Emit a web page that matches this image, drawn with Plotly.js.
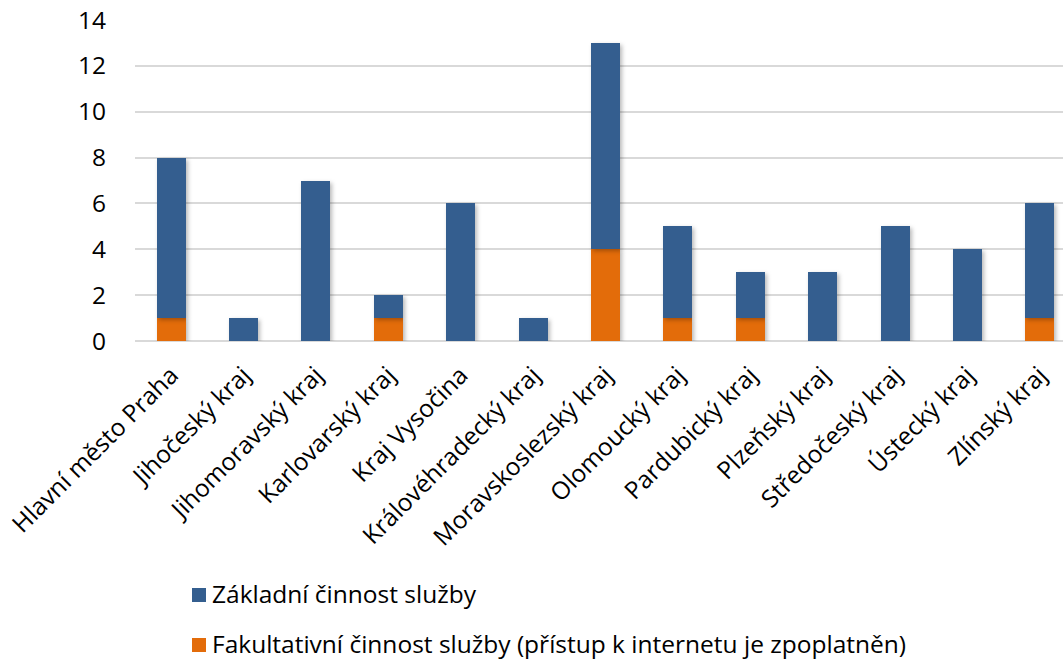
<!DOCTYPE html>
<html>
<head>
<meta charset="utf-8">
<script src="https://cdn.plot.ly/plotly-3.0.1.min.js"></script>
<style>
  html, body { margin: 0; padding: 0; background: #fff; }
  #chart { width: 1063px; height: 659px; }
  #chart .bars path { filter: drop-shadow(2px 2px 2px rgba(0,0,0,0.28)); }
</style>
</head>
<body>
<div id="chart"></div>
<script>
// Kraje
const regions = [
  'Hlavní město Praha', 'Jihočeský kraj', 'Jihomoravský kraj', 'Karlovarský kraj',
  'Kraj Vysočina', 'Královéhradecký kraj', 'Moravskoslezský kraj', 'Olomoucký kraj',
  'Pardubický kraj', 'Plzeňský kraj', 'Středočeský kraj', 'Ústecký kraj', 'Zlínský kraj'
];
// Fakultativní činnost služby (přístup k internetu je zpoplatněn)
const optionalService = [1, 0, 0, 1, 0, 0, 4, 1, 1, 0, 0, 0, 1];
// Základní činnost služby
const basicService = [7, 1, 7, 1, 6, 1, 9, 4, 2, 3, 5, 4, 5];
const yTicks = [0, 2, 4, 6, 8, 10, 12, 14];

const FONT = '"Open Sans", "Noto Sans", sans-serif';
const FS = 24.5;
const W = 1063, H = 659;
const M = { l: 135, r: 0, t: 20, b: 318 };

const traces = [
  {
    type: 'bar', x: regions, y: optionalService,
    name: 'Fakultativní činnost služby (přístup k internetu je zpoplatněn)',
    marker: { color: '#e36c0a' }, width: 0.4, hoverinfo: 'x+y'
  },
  {
    type: 'bar', x: regions, y: basicService,
    name: 'Základní činnost služby',
    marker: { color: '#345e8f' }, width: 0.4, hoverinfo: 'x+y'
  }
];

// Legend below the chart: a colour square and the series name per row,
// placed in page pixels and converted to paper coordinates.
const plotW = W - M.l - M.r, plotH = H - M.t - M.b;
const px = x => (x - M.l) / plotW;
const py = y => (H - M.b - y) / plotH;
const legendRows = [traces[1], traces[0]];
const shapes = [], annotations = [];
legendRows.forEach((tr, i) => {
  const cy = 595 + i * 50;
  shapes.push({
    type: 'rect', xref: 'paper', yref: 'paper',
    x0: px(192), x1: px(206), y0: py(cy + 7), y1: py(cy - 7),
    fillcolor: tr.marker.color, line: { width: 0 }
  });
  annotations.push({
    xref: 'paper', yref: 'paper', x: px(210), y: py(cy - 2),
    xanchor: 'left', yanchor: 'middle', showarrow: false,
    text: tr.name, font: { family: FONT, size: FS, color: '#000' }
  });
});

const layout = {
  width: W, height: H,
  margin: Object.assign({ autoexpand: false }, M),
  paper_bgcolor: '#ffffff', plot_bgcolor: '#ffffff',
  barmode: 'stack',
  showlegend: false,
  font: { family: FONT, size: FS, color: '#000' },
  xaxis: {
    type: 'category',
    range: [-0.5, 12.32],
    tickangle: -45,
    showgrid: false, showline: false, ticks: '',
    ticklabelstandoff: 14,
    tickfont: { family: FONT, size: FS, color: '#000' }
  },
  yaxis: {
    range: [0, 14],
    tickvals: yTicks,
    ticktext: yTicks.map(String),
    showgrid: true, gridcolor: '#d9d9d9', gridwidth: 2,
    zeroline: true, zerolinecolor: '#d9d9d9', zerolinewidth: 2,
    showline: false, ticks: '',
    ticklabelstandoff: 28,
    tickfont: { family: FONT, size: FS, color: '#000' }
  },
  shapes: shapes,
  annotations: annotations
};

Plotly.newPlot('chart', traces, layout, { staticPlot: true, displayModeBar: false });
</script>
</body>
</html>
